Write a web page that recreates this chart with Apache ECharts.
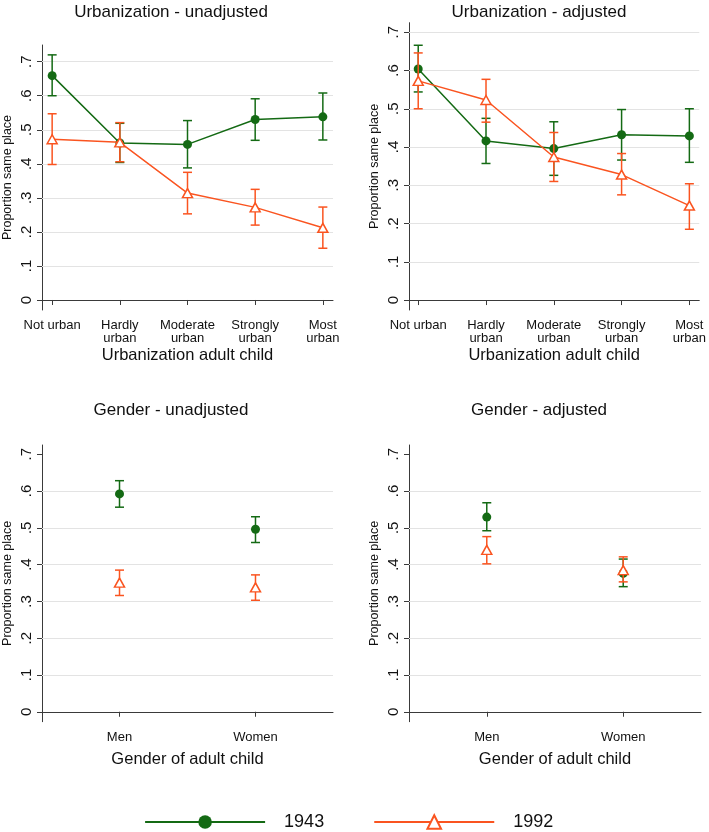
<!DOCTYPE html>
<html>
<head>
<meta charset="utf-8">
<script src="https://cdn.jsdelivr.net/npm/echarts@6/dist/echarts.min.js"></script>
<style>
html,body{margin:0;padding:0;background:#fff;}
#chart{width:709px;height:832px;}
</style>
</head>
<body>
<div id="chart"></div>
<script>
// ---- data ----
const urbanCategories = ['Not urban', 'Hardly\nurban', 'Moderate\nurban', 'Strongly\nurban', 'Most\nurban'];
const genderCategories = ['Men', 'Women'];
const yTicks = [0, 0.1, 0.2, 0.3, 0.4, 0.5, 0.6, 0.7];

// Urbanization - unadjusted
const urbUnadj1943 = [0.659, 0.461, 0.457, 0.530, 0.538];
const urbUnadj1943Lo = [0.600, 0.404, 0.388, 0.469, 0.470];
const urbUnadj1943Hi = [0.720, 0.519, 0.527, 0.591, 0.608];
const urbUnadj1992 = [0.472, 0.463, 0.314, 0.272, 0.212];
const urbUnadj1992Lo = [0.398, 0.406, 0.253, 0.220, 0.152];
const urbUnadj1992Hi = [0.547, 0.521, 0.375, 0.325, 0.273];

// Urbanization - adjusted
const urbAdj1943 = [0.604, 0.416, 0.396, 0.432, 0.429];
const urbAdj1943Lo = [0.544, 0.357, 0.326, 0.366, 0.360];
const urbAdj1943Hi = [0.666, 0.475, 0.466, 0.498, 0.500];
const urbAdj1992 = [0.573, 0.523, 0.374, 0.328, 0.247];
const urbAdj1992Lo = [0.500, 0.465, 0.310, 0.275, 0.185];
const urbAdj1992Hi = [0.646, 0.577, 0.438, 0.383, 0.304];

// Gender - unadjusted
const genUnadj1943 = [0.592, 0.496];
const genUnadj1943Lo = [0.556, 0.460];
const genUnadj1943Hi = [0.628, 0.530];
const genUnadj1992 = [0.351, 0.338];
const genUnadj1992Lo = [0.316, 0.303];
const genUnadj1992Hi = [0.385, 0.372];

// Gender - adjusted
const genAdj1943 = [0.529, 0.376];
const genAdj1943Lo = [0.492, 0.340];
const genAdj1943Hi = [0.568, 0.415];
const genAdj1992 = [0.440, 0.385];
const genAdj1992Lo = [0.402, 0.353];
const genAdj1992Hi = [0.476, 0.421];

// ---- style ----
const GREEN = '#146a14';
const ORANGE = '#fa5420';
const FONT = 'Liberation Sans';
const AXIS_COLOR = '#3a3a3a';

const panels = [
  {title: 'Urbanization - unadjusted', cats: urbanCategories, xName: 'Urbanization adult child',
   grid: {left: 42, top: 45, width: 291, height: 265}, x: [0.85, 5.15], y: [-0.0294, 0.749],
   g: [urbUnadj1943, urbUnadj1943Lo, urbUnadj1943Hi], o: [urbUnadj1992, urbUnadj1992Lo, urbUnadj1992Hi],
   connect: true, gridVals: [0.1,0.2,0.3,0.4,0.5,0.6,0.7]},
  {title: 'Urbanization - adjusted', cats: urbanCategories, xName: 'Urbanization adult child',
   grid: {left: 409, top: 22.7, width: 292.7, height: 287.3}, x: [0.864, 5.146], y: [-0.026, 0.725],
   g: [urbAdj1943, urbAdj1943Lo, urbAdj1943Hi], o: [urbAdj1992, urbAdj1992Lo, urbAdj1992Hi],
   connect: true, gridVals: [0.1,0.2,0.3,0.4,0.5,0.6,0.7]},
  {title: 'Gender - unadjusted', cats: genderCategories, xName: 'Gender of adult child',
   grid: {left: 42, top: 445, width: 291, height: 276.7}, x: [0.43, 2.57], y: [-0.027, 0.725],
   g: [genUnadj1943, genUnadj1943Lo, genUnadj1943Hi], o: [genUnadj1992, genUnadj1992Lo, genUnadj1992Hi],
   connect: false, gridVals: [0.1,0.2,0.3,0.4,0.5,0.6]},
  {title: 'Gender - adjusted', cats: genderCategories, xName: 'Gender of adult child',
   grid: {left: 409, top: 445, width: 292, height: 276.7}, x: [0.43, 2.57], y: [-0.027, 0.725],
   g: [genAdj1943, genAdj1943Lo, genAdj1943Hi], o: [genAdj1992, genAdj1992Lo, genAdj1992Hi],
   connect: false, gridVals: [0.1,0.2,0.3,0.4,0.5,0.6]}
];

const grids = [], xAxes = [], yAxes = [], series = [], titles = [];

function errorBarSeries(name, idx, lo, hi, color, z) {
  return {
    type: 'custom', name: name, xAxisIndex: idx, yAxisIndex: idx, z: z, silent: true,
    data: lo.map((v, i) => [i + 1, v, hi[i]]),
    encode: {x: 0, y: [1, 2]},
    renderItem: function (params, api) {
      const x = api.value(0);
      const p1 = api.coord([x, api.value(1)]);
      const p2 = api.coord([x, api.value(2)]);
      const hw = 4.5;
      const st = {stroke: color, lineWidth: 1.5};
      return {type: 'group', children: [
        {type: 'line', shape: {x1: p1[0], y1: p1[1], x2: p2[0], y2: p2[1]}, style: st},
        {type: 'line', shape: {x1: p1[0] - hw, y1: p1[1], x2: p1[0] + hw, y2: p1[1]}, style: st},
        {type: 'line', shape: {x1: p2[0] - hw, y1: p2[1], x2: p2[0] + hw, y2: p2[1]}, style: st}
      ]};
    }
  };
}

panels.forEach((p, idx) => {
  grids.push(Object.assign({containLabel: false}, p.grid));
  titles.push({text: p.title, left: (idx % 2 === 0 ? 166 : 534), top: (idx < 2 ? -1 : 397), textAlign: 'center',
    textStyle: {fontFamily: FONT, fontSize: 17, fontWeight: 'normal', color: '#111'}});
  const xTickVals = p.cats.map((c, i) => i + 1);
  xAxes.push({
    type: 'value', gridIndex: idx, min: p.x[0], max: p.x[1],
    name: p.xName, nameLocation: 'middle', nameGap: p.connect ? 37 : 29,
    nameTextStyle: {fontFamily: FONT, fontSize: 16.5, color: '#111'},
    axisLine: {show: true, lineStyle: {color: AXIS_COLOR, width: 1}},
    axisTick: {show: true, length: 5, customValues: xTickVals, lineStyle: {color: AXIS_COLOR}},
    axisLabel: {customValues: xTickVals, margin: 9, fontFamily: FONT, fontSize: 13, color: '#111', lineHeight: 13,
      formatter: v => p.cats[Math.round(v) - 1]},
    splitLine: {show: false}
  });
  yAxes.push({
    type: 'value', gridIndex: idx, min: p.y[0], max: p.y[1],
    name: 'Proportion same place', nameLocation: 'middle', nameGap: 28, nameRotate: 90,
    nameTextStyle: {fontFamily: FONT, fontSize: 12.5, color: '#111'},
    axisLine: {show: true, lineStyle: {color: AXIS_COLOR, width: 1}},
    axisTick: {show: true, length: 5, customValues: yTicks, lineStyle: {color: AXIS_COLOR}},
    axisLabel: {customValues: yTicks, rotate: 90, margin: 8, fontFamily: FONT, fontSize: 15, color: '#111',
      formatter: v => (Math.abs(v) < 1e-9 ? '0' : '.' + Math.round(v * 10))},
    splitLine: {show: false}
  });
  // grid lines (via markLine on a dummy series), kept beneath the data
  series.push({
    type: 'line', xAxisIndex: idx, yAxisIndex: idx, data: [], silent: true, z: 1,
    markLine: {silent: true, z: 1, symbol: 'none', animation: false, label: {show: false},
      lineStyle: {color: '#e3e3e3', width: 1.2, type: 'solid'},
      data: p.gridVals.map(v => ({yAxis: v}))}
  });
  // 1943
  series.push(errorBarSeries('ci1943', idx, p.g[1], p.g[2], GREEN, 3));
  series.push({
    type: p.connect ? 'line' : 'scatter', name: '1943', xAxisIndex: idx, yAxisIndex: idx, z: 4,
    data: p.g[0].map((v, i) => [i + 1, v]),
    symbol: 'circle', symbolSize: 9, showSymbol: true, animation: false,
    lineStyle: {color: GREEN, width: 1.5}, itemStyle: {color: GREEN, opacity: 1}
  });
  // 1992
  series.push(errorBarSeries('ci1992', idx, p.o[1], p.o[2], ORANGE, 5));
  series.push({
    type: p.connect ? 'line' : 'scatter', name: '1992', xAxisIndex: idx, yAxisIndex: idx, z: 6,
    data: p.o[0].map((v, i) => [i + 1, v]),
    symbol: 'triangle', symbolSize: [10, 9], showSymbol: true, animation: false,
    lineStyle: {color: ORANGE, width: 1.5},
    itemStyle: {color: '#ffffff', borderColor: ORANGE, borderWidth: 1.5, opacity: 1}
  });
});

const chart = echarts.init(document.getElementById('chart'), null, {renderer: 'canvas'});
chart.setOption({
  backgroundColor: '#ffffff',
  animation: false,
  title: titles,
  grid: grids,
  xAxis: xAxes,
  yAxis: yAxes,
  legend: {
    data: ['1943', '1992'], left: 144, top: 813, padding: 0,
    itemWidth: 120, itemHeight: 17, itemGap: 49,
    textStyle: {fontFamily: FONT, fontSize: 18, color: '#111', padding: [0, 0, 0, 14]},
    lineStyle: {width: 2.2},
    selectedMode: false
  },
  series: series
});
</script>
</body>
</html>
